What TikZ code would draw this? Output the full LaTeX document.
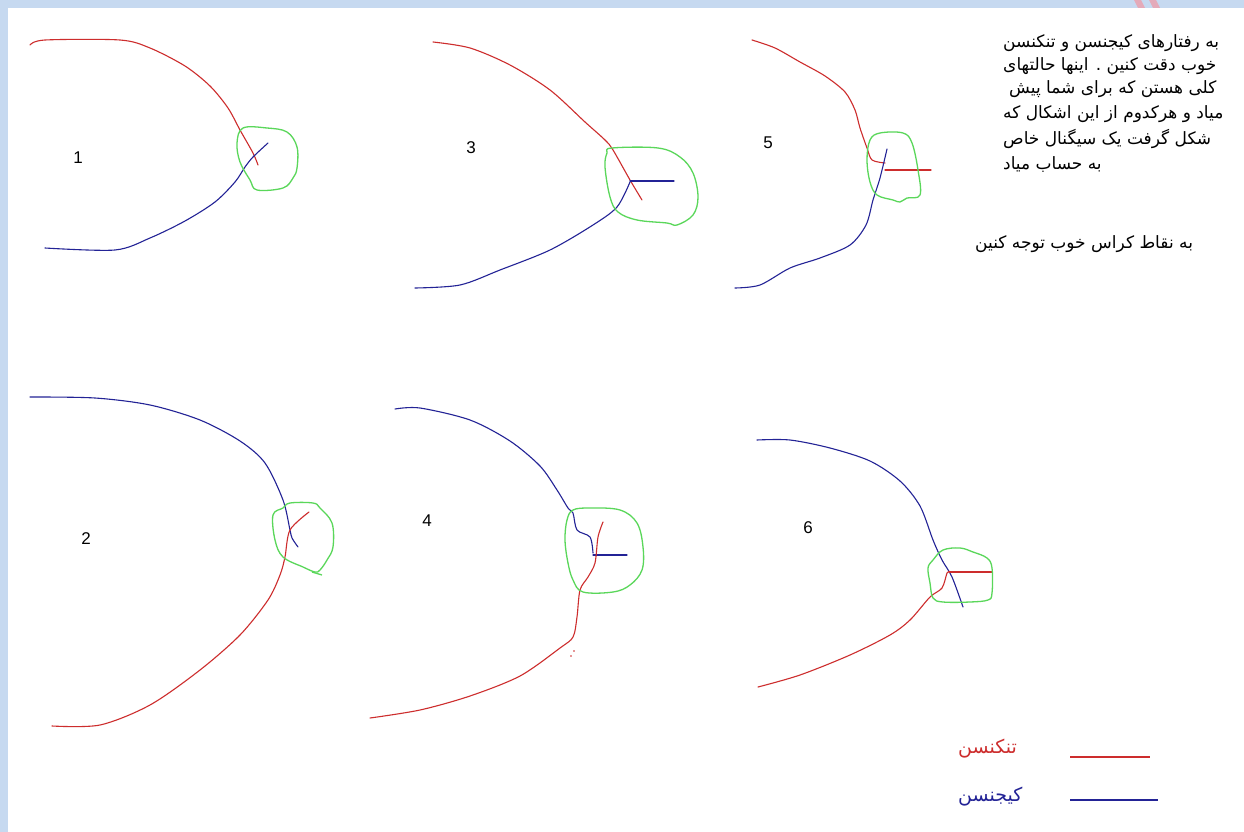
\documentclass[tikz,border=0pt]{standalone}
\usepackage{fontspec}
\setmainfont{Liberation Sans}
\TeXXeTstate=1
\newfontfamily\arabicfont[Script=Arabic]{DejaVu Sans}
\definecolor{frameblue}{RGB}{198,217,240}
\definecolor{stripepink}{RGB}{228,170,185}
\definecolor{cred}{RGB}{205,45,45}
\definecolor{cblue}{RGB}{35,35,150}
\definecolor{cgreen}{RGB}{90,215,90}
\tikzset{
  redline/.style={cred, line width=1.1pt, line join=round, line cap=round},
  blueline/.style={cblue, line width=1.1pt, line join=round, line cap=round},
  greenline/.style={cgreen, line width=1.3pt, line join=round},
  num/.style={font=\fontsize{17}{20}\selectfont, inner sep=0pt},
  ptext/.style={font=\arabicfont\fontsize{17}{19}\selectfont, inner sep=0pt, anchor=west},
  ltext/.style={font=\arabicfont\fontsize{19}{21}\selectfont, inner sep=0pt, anchor=west},
}
\begin{document}
\begin{tikzpicture}[x=1pt,y=-1pt]
\useasboundingbox (0,0) rectangle (1244,832);
% frame
\fill[frameblue] (0,0) rectangle (1244,832);
\fill[white] (8,8) rectangle (1244,832);
\fill[stripepink] (1134,0) -- (1141,0) -- (1145,8) -- (1138,8) -- cycle;
\fill[stripepink] (1149,0) -- (1156,0) -- (1160,8) -- (1153,8) -- cycle;

% ---------- figure 1
\draw[redline] plot[smooth, tension=0.5] coordinates {(30,45) (45,40) (120,40) (150,48) (185,66) (210,86) (228,108) (240,130) (253,153) (258,165)};
\draw[blueline] plot[smooth, tension=0.5] coordinates {(45,248) (115,250) (150,238) (185,221) (215,202) (235,182) (245,167) (253,157) (268,143)};
\draw[greenline] plot[smooth cycle, tension=0.6] coordinates {(243,128) (267,128) (287,132) (297,147) (297,168) (293,178) (283,188) (257,190) (250,180) (240,162) (237,143)};
\node[num] (n1) at (78,158) {1};

% ---------- figure 3
\draw[redline] plot[smooth, tension=0.5] coordinates {(433,42) (470,48) (510,65) (550,90) (585,122) (605,140) (613,150) (630,180) (642,200)};
\draw[blueline] plot[smooth, tension=0.5] coordinates {(415,288) (460,285) (500,270) (550,250) (593,225) (617,207) (630,182)};
\draw[blueline] (630,181) -- (674,181);
\draw[greenline] plot[smooth cycle, tension=0.6] coordinates {(612,148) (658,148) (680,157) (693,173) (698,197) (693,215) (677,225) (667,223) (637,220) (618,212) (610,197) (605,167) (607,153)};
\node[num] (n3) at (471,148) {3};

% ---------- figure 5
\draw[redline] plot[smooth, tension=0.5] coordinates {(752,40) (775,48) (800,62) (825,76) (845,92) (855,110) (860,128) (867,148) (872,160) (885,163)};
\draw[redline] (885,170) -- (931,170);
\draw[blueline] plot[smooth, tension=0.5] coordinates {(887,149) (880,178) (873,200) (866,225) (850,245) (820,258) (790,268) (760,285) (735,288)};
\draw[greenline] plot[smooth cycle, tension=0.6] coordinates {(870,140) (880,133) (903,133) (912,143) (918,170) (920,195) (907,198) (900,202) (893,200) (877,195) (870,182) (867,160)};
\node[num] (n5) at (768,143) {5};

% ---------- figure 2
\draw[blueline] plot[smooth, tension=0.5] coordinates {(30,397) (95,398) (150,405) (200,420) (240,441) (265,463) (283,500) (290,530) (292,538) (298,547)};
\draw[redline] plot[smooth, tension=0.5] coordinates {(52,726) (100,725) (150,705) (200,670) (240,635) (268,600) (280,575) (285,557) (290,530) (309,512)};
\draw[greenline] plot[smooth cycle, tension=0.6] coordinates {(290,503) (313,503) (320,508) (332,523) (333,547) (327,560) (320,570) (315,572) (303,567) (283,557) (275,540) (273,515) (283,508)};
\draw[greenline] (312,572) -- (322,575);
\node[num] (n2) at (86,539) {2};

% ---------- figure 4
\draw[blueline] plot[smooth, tension=0.5] coordinates {(395,409) (420,408) (470,420) (510,441) (540,466) (557,490) (568,508) (573,513) (577,530) (590,537) (593,553)};
\draw[blueline] (593,555) -- (627,555);
\draw[redline] plot[smooth, tension=0.5] coordinates {(603,522) (598,537) (595,563) (588,577) (580,590) (577,617) (573,637) (560,648) (520,676) (470,696) (420,710) (370,718)};
\fill[cred] (571,656) circle (0.8pt) (574,651) circle (0.8pt);
\draw[greenline] plot[smooth cycle, tension=0.6] coordinates {(573,510) (590,508) (620,510) (637,523) (643,547) (642,570) (630,585) (613,592) (583,592) (573,580) (568,563) (565,540) (567,520)};
\node[num] (n4) at (427,521) {4};

% ---------- figure 6
\draw[blueline] plot[smooth, tension=0.5] coordinates {(757,440) (790,440) (830,448) (870,461) (900,481) (920,506) (933,540) (942,560) (952,577) (963,607)};
\draw[redline] plot[smooth, tension=0.5] coordinates {(758,687) (800,675) (850,655) (890,635) (910,620) (930,597) (942,588) (947,573) (949,572)};
\draw[redline] (949,572) -- (992,572);
\draw[greenline] plot[smooth cycle, tension=0.6] coordinates {(943,550) (960,548) (973,552) (987,558) (992,568) (992,593) (988,600) (970,602) (943,602) (933,598) (930,583) (928,568) (933,560)};
\node[num] (n6) at (808,528) {6};

% ---------- text
\node[ptext] (t1) at (1003,43) {\beginR به رفتارهای کیجنسن و تنکنسن\endR};
\node[ptext] (t2) at (1003,66) {\beginR خوب دقت کنین . اینها حالتهای\endR};
\node[ptext] (t3) at (1009,89) {\beginR کلی هستن که برای شما پیش\endR};
\node[ptext] (t4) at (1003,114) {\beginR میاد و هرکدوم از این اشکال که\endR};
\node[ptext] (t5) at (1003,139) {\beginR شکل گرفت یک سیگنال خاص\endR};
\node[ptext] (t6) at (1003,164) {\beginR به حساب میاد\endR};
\node[ptext] (t7) at (975,244) {\beginR به نقاط کراس خوب توجه کنین\endR};

% ---------- legend
\node[ltext, text=cred] (lr) at (958,749) {\beginR تنکنسن\endR};
\node[ltext, text=cblue] (lb) at (958,797) {\beginR کیجنسن\endR};
\coordinate (lr1) at (1070,757);
\coordinate (lr2) at (1150,757);
\coordinate (lb1) at (1070,800);
\coordinate (lb2) at (1158,800);
\draw[redline, line cap=butt] (lr1) -- (lr2);
\draw[blueline, line cap=butt] (lb1) -- (lb2);
\end{tikzpicture}
\end{document}
